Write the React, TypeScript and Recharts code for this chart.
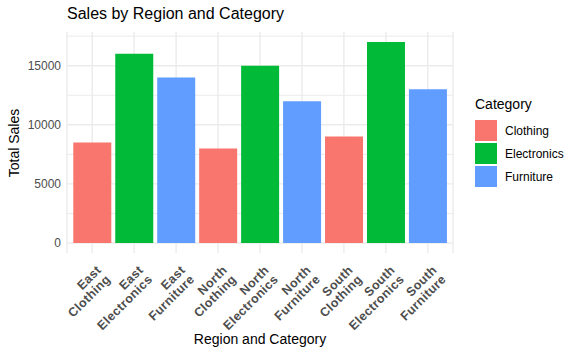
import { Bar, BarChart, CartesianGrid, Cell, XAxis, YAxis } from "recharts";

const regions = ["East", "East", "East", "North", "North", "North", "South", "South", "South"];
const categories = [
  "Clothing", "Electronics", "Furniture",
  "Clothing", "Electronics", "Furniture",
  "Clothing", "Electronics", "Furniture",
];
const sales = [8500, 16000, 14000, 8000, 15000, 12000, 9000, 17000, 13000];

const legendItems = ["Clothing", "Electronics", "Furniture"];
const palette: Record<string, string> = {
  Clothing: "#F8766D",
  Electronics: "#00BA38",
  Furniture: "#619CFF",
};

const yTicks = [0, 5000, 10000, 15000];
const yMinor = [2500, 7500, 12500, 17500];

const data = sales.map((v, i) => ({
  key: `${regions[i]}.${categories[i]}`,
  region: regions[i],
  category: categories[i],
  sales: v,
}));

const font = "'Liberation Sans', Arial, sans-serif";

function RotatedTick(props: any) {
  const { x, y, payload } = props;
  const [region, category] = String(payload.value).split(".");
  return (
    <g transform={`translate(${x + 19},${y + 27}) rotate(-45)`}>
      <text
        textAnchor="end"
        fontFamily={font}
        fontSize={12.5}
        fontWeight="bold"
        letterSpacing={0.4}
        fill="#4D4D4D"
      >
        <tspan x={0} y={-13}>{region}</tspan>
        <tspan x={0} y={0}>{category}</tspan>
      </text>
    </g>
  );
}

export default function App() {
  return (
    <div
      style={{
        position: "absolute",
        left: 0,
        top: 0,
        width: 581,
        height: 355,
        background: "#fff",
        fontFamily: font,
      }}
    >
      <BarChart
        width={581}
        height={355}
        data={data}
        margin={{ top: 32, right: 128, bottom: 0, left: 0 }}
        barCategoryGap="5%"
      >
        <CartesianGrid
          stroke="#EBEBEB"
          strokeWidth={1}
          vertical={false}
          horizontalValues={yMinor}
        />
        <CartesianGrid stroke="#EBEBEB" strokeWidth={1.4} horizontalValues={yTicks} />
        <XAxis
          dataKey="key"
          interval={0}
          tickLine={false}
          axisLine={false}
          tickSize={0}
          tickMargin={0}
          height={102}
          padding={{ left: 4.2, right: 4.2 }}
          tick={<RotatedTick />}
        />
        <YAxis
          width={67}
          domain={[-850, 17850]}
          ticks={yTicks}
          allowDataOverflow
          tickLine={false}
          axisLine={false}
          tickMargin={0}
          tick={{ fill: "#4D4D4D", fontSize: 12, fontFamily: font }}
        />
        <Bar dataKey="sales" isAnimationActive={false}>
          {data.map((d) => (
            <Cell key={d.key} fill={palette[d.category]} />
          ))}
        </Bar>
      </BarChart>

      <div
        style={{
          position: "absolute",
          left: 67,
          top: 5,
          fontSize: 16,
          color: "#000",
          whiteSpace: "nowrap",
        }}
      >
        Sales by Region and Category
      </div>

      <div
        style={{
          position: "absolute",
          left: 14,
          top: 143,
          fontSize: 14,
          color: "#000",
          whiteSpace: "nowrap",
          transform: "translate(-50%, -50%) rotate(-90deg)",
        }}
      >
        Total Sales
      </div>

      <div
        style={{
          position: "absolute",
          left: 260,
          top: 339,
          fontSize: 14,
          color: "#000",
          whiteSpace: "nowrap",
          transform: "translate(-50%, -50%)",
        }}
      >
        Region and Category
      </div>

      <div style={{ position: "absolute", left: 475, top: 96 }}>
        <div style={{ fontSize: 14, color: "#000", lineHeight: "16px", marginBottom: 7 }}>
          Category
        </div>
        {legendItems.map((c) => (
          <div
            key={c}
            style={{ display: "flex", alignItems: "center", height: 23, whiteSpace: "nowrap" }}
          >
            <div style={{ width: 22, height: 21, background: palette[c] }} />
            <span style={{ marginLeft: 8, fontSize: 12, color: "#000" }}>{c}</span>
          </div>
        ))}
      </div>
    </div>
  );
}
